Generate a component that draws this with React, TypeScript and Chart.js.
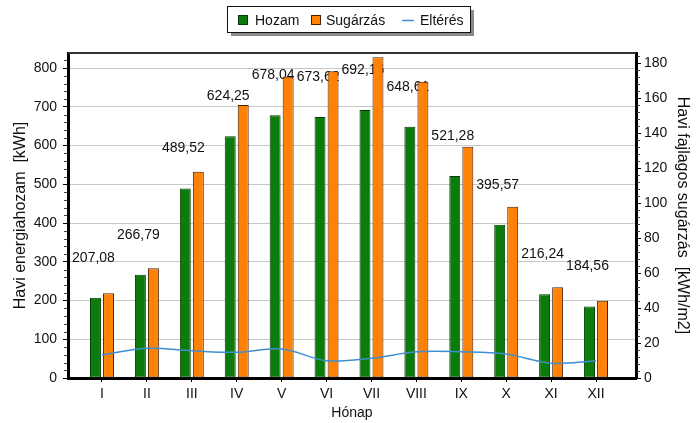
import React, { useEffect, useRef } from 'react';
import { Chart, registerables } from 'chart.js';

Chart.register(...registerables);

const months = ['I', 'II', 'III', 'IV', 'V', 'VI', 'VII', 'VIII', 'IX', 'X', 'XI', 'XII'];
const hozam = [207.08, 266.79, 489.52, 624.25, 678.04, 673.62, 692.16, 648.61, 521.28, 395.57, 216.24, 184.56];
const sugarzas = [48.5, 62.8, 118.0, 156.2, 172.4, 175.6, 183.5, 169.5, 132.3, 98.0, 51.9, 44.2];
const elteres = [13.2, 17.0, 15.6, 14.7, 16.6, 9.9, 11.3, 15.0, 15.0, 13.7, 8.4, 9.9];
const legendLabels = ['Hozam', 'Sugárzás', 'Eltérés'];

const FONT = '"Liberation Sans", Arial, sans-serif';
const GREEN = '#0b7c0b';
const GREEN_BORDER = '#033d03';
const ORANGE = '#ff8207';
const ORANGE_BORDER = '#4a2200';
const BLUE = '#3f8ecf';

const isInt = (v: number) => Math.abs(v - Math.round(v)) < 1e-6;
const fmt = (v: number) => v.toFixed(2).replace('.', ',');

const extrasPlugin = {
  id: 'extras',
  beforeDatasetDraw(chart: any, args: any) {
    if (args.index !== 2) return;
    const ctx = chart.ctx;
    const meta = chart.getDatasetMeta(1);
    ctx.save();
    ctx.font = `14px ${FONT}`;
    ctx.fillStyle = '#111';
    ctx.textAlign = 'center';
    ctx.textBaseline = 'middle';
    meta.data.forEach((el: any, i: number) => {
      ctx.fillText(fmt(hozam[i]), el.x - 2, el.y - 40);
    });
    ctx.restore();
  },
  afterDraw(chart: any) {
    const ctx = chart.ctx;
    const area = chart.chartArea;
    ctx.save();
    ctx.strokeStyle = '#333';
    ctx.lineWidth = 2;
    ctx.beginPath();
    ctx.moveTo(area.left, area.top);
    ctx.lineTo(area.right, area.top);
    ctx.stroke();
    ctx.lineWidth = 1;
    ctx.strokeStyle = '#444';
    const sy = chart.scales.y;
    for (let v = 20; v <= sy.max; v += 20) {
      if (isInt(v / 100)) continue;
      const p = Math.round(sy.getPixelForValue(v)) + 0.5;
      ctx.beginPath();
      ctx.moveTo(area.left - 4, p);
      ctx.lineTo(area.left - 1, p);
      ctx.stroke();
    }
    const sy1 = chart.scales.y1;
    for (let v = 4; v <= sy1.max; v += 4) {
      if (isInt(v / 20)) continue;
      const p = Math.round(sy1.getPixelForValue(v)) + 0.5;
      ctx.beginPath();
      ctx.moveTo(area.right + 1, p);
      ctx.lineTo(area.right + 4, p);
      ctx.stroke();
    }
    ctx.fillStyle = '#8a8a8a';
    ctx.fillRect(231, 10, 243, 26);
    ctx.fillStyle = '#fff';
    ctx.fillRect(227, 6, 243, 26);
    ctx.strokeStyle = '#111';
    ctx.lineWidth = 1;
    ctx.strokeRect(227.5, 6.5, 243, 26);
    const cy = 20;
    ctx.fillStyle = GREEN;
    ctx.fillRect(238, cy - 5, 9, 9);
    ctx.strokeStyle = GREEN_BORDER;
    ctx.strokeRect(238.5, cy - 4.5, 9, 9);
    ctx.fillStyle = ORANGE;
    ctx.fillRect(311, cy - 5, 9, 9);
    ctx.strokeStyle = ORANGE_BORDER;
    ctx.strokeRect(311.5, cy - 4.5, 9, 9);
    ctx.strokeStyle = BLUE;
    ctx.lineWidth = 1.5;
    ctx.beginPath();
    ctx.moveTo(402, cy + 0.5);
    ctx.lineTo(414, cy + 0.5);
    ctx.stroke();
    ctx.fillStyle = '#111';
    ctx.font = `14px ${FONT}`;
    ctx.textAlign = 'left';
    ctx.textBaseline = 'middle';
    ctx.fillText(legendLabels[0], 255, cy + 1);
    ctx.fillText(legendLabels[1], 326, cy + 1);
    ctx.fillText(legendLabels[2], 420, cy + 1);
    ctx.restore();
  },
};

export default function App() {
  const ref = useRef<HTMLCanvasElement>(null);
  useEffect(() => {
    const chart = new Chart(ref.current as HTMLCanvasElement, {
      type: 'bar',
      data: {
        datasets: [
          {
            type: 'line',
            label: legendLabels[2],
            data: months.map((_, i) => ({ x: i + 1, y: elteres[i] })),
            yAxisID: 'y1',
            borderColor: BLUE,
            borderWidth: 1.5,
            pointRadius: 0,
            tension: 0.35,
            fill: false,
          } as any,
          {
            label: legendLabels[0],
            data: months.map((_, i) => ({ x: i + 1, y: hozam[i] })),
            yAxisID: 'y',
            backgroundColor: GREEN,
            borderColor: GREEN_BORDER,
            borderWidth: 1,
            borderSkipped: false,
            categoryPercentage: 0.58,
            barPercentage: 0.84,
          },
          {
            label: legendLabels[1],
            data: months.map((_, i) => ({ x: i + 1, y: sugarzas[i] })),
            yAxisID: 'y1',
            backgroundColor: ORANGE,
            borderColor: ORANGE_BORDER,
            borderWidth: 1,
            borderSkipped: false,
            categoryPercentage: 0.58,
            barPercentage: 0.84,
          },
        ],
      },
      options: {
        responsive: false,
        animation: false,
        events: [],
        layout: { padding: { left: 0, right: 0, top: 53, bottom: 0 } },
        plugins: { legend: { display: false }, tooltip: { enabled: false } },
        scales: {
          x: {
            type: 'linear',
            offset: false,
            min: 0.243,
            max: 12.89,
            afterBuildTicks: (axis: any) => {
              axis.ticks = axis.ticks.filter((t: any) => isInt(t.value) && t.value >= 1 && t.value <= 12);
            },
            afterFit: (axis: any) => {
              axis.height = 45;
            },
            ticks: {
              stepSize: 1,
              includeBounds: false,
              autoSkip: false,
              maxRotation: 0,
              padding: 4,
              color: '#111',
              font: { family: FONT, size: 14 },
              callback: (v: any) => (isInt(v) ? months[Math.round(v) - 1] ?? '' : ''),
            },
            grid: { display: true, offset: false, drawOnChartArea: false, drawTicks: true, tickLength: 4, tickColor: '#000' },
            border: { display: true, color: '#000', width: 3 },
            title: { display: true, text: 'Hónap', color: '#111', font: { family: FONT, size: 14 }, padding: { top: 1, bottom: 1 } },
          },
          y: {
            position: 'left',
            min: 0,
            max: 839,
            afterBuildTicks: (axis: any) => {
              axis.ticks = axis.ticks.filter((t: any) => isInt(t.value / 100));
            },
            afterFit: (axis: any) => {
              axis.width = 68;
            },
            ticks: { stepSize: 100, includeBounds: false, padding: 6, color: '#111', font: { family: FONT, size: 14 } },
            grid: { color: '#c8c8c8', lineWidth: 1, tickColor: '#000', tickLength: 5 },
            border: { display: true, color: '#000', width: 3 },
            title: { display: true, text: 'Havi energiahozam  [kWh]', color: '#111', font: { family: FONT, size: 16 }, padding: { top: 11.4, bottom: 11.4 } },
          },
          y1: {
            position: 'right',
            min: 0,
            max: 186,
            afterBuildTicks: (axis: any) => {
              axis.ticks = axis.ticks.filter((t: any) => isInt(t.value / 20));
            },
            afterFit: (axis: any) => {
              axis.width = 63;
            },
            ticks: { stepSize: 20, includeBounds: false, padding: 3, color: '#111', font: { family: FONT, size: 14 } },
            grid: { drawOnChartArea: false, tickColor: '#000', tickLength: 5 },
            border: { display: true, color: '#000', width: 3 },
            title: { display: true, text: 'Havi fajlagos sugárzás  [kWh/m2]', color: '#111', font: { family: FONT, size: 16 }, padding: { top: 7.4, bottom: 7.4 } },
          },
        },
      },
      plugins: [extrasPlugin],
    });
    return () => chart.destroy();
  }, []);
  return (
    <div style={{ position: 'absolute', left: 0, top: 0, width: 699, height: 423, background: '#fff' }}>
      <canvas ref={ref} width={699} height={423} style={{ display: 'block' }} />
    </div>
  );
}
